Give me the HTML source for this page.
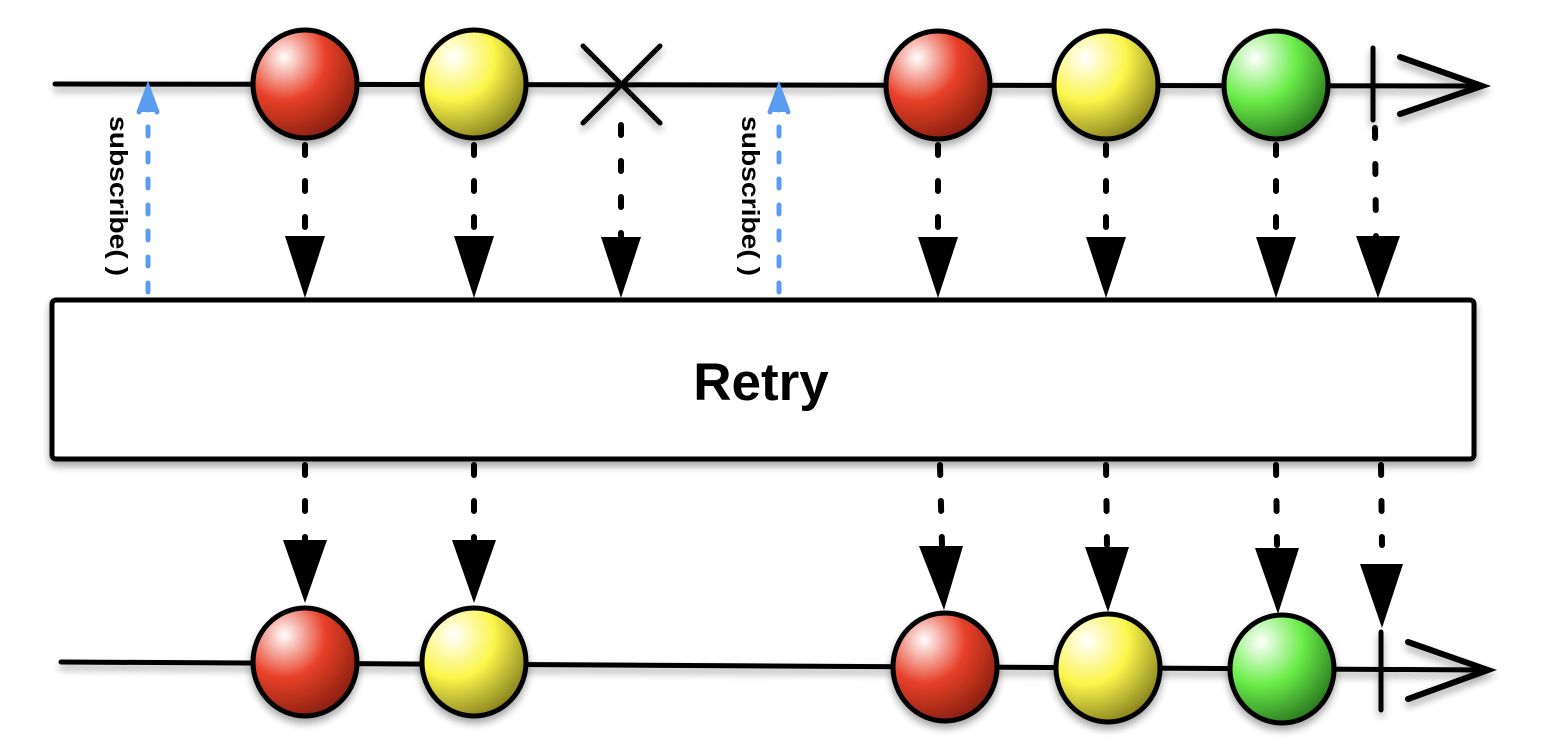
<!DOCTYPE html>
<html><head><style>html,body{margin:0;padding:0;background:#fff;}svg{display:block}</style></head><body>
<svg width="1550" height="756" viewBox="0 0 1550 756" xmlns="http://www.w3.org/2000/svg">
<defs>
<radialGradient id="r" cx="0.3" cy="0.25" r="0.8"><stop offset="0" stop-color="#fff"/><stop offset="0.5" stop-color="#e84028"/><stop offset="1" stop-color="#8a2010"/></radialGradient>
<radialGradient id="y" cx="0.3" cy="0.25" r="0.8"><stop offset="0" stop-color="#fff"/><stop offset="0.5" stop-color="#fbf54a"/><stop offset="1" stop-color="#8a8420"/></radialGradient>
<radialGradient id="g" cx="0.3" cy="0.25" r="0.8"><stop offset="0" stop-color="#fff"/><stop offset="0.5" stop-color="#6aed48"/><stop offset="1" stop-color="#2a7a20"/></radialGradient>
<filter id="s" x="-20%" y="-20%" width="140%" height="160%"><feDropShadow dx="0" dy="5" stdDeviation="4" flood-color="#000" flood-opacity="0.35"/></filter>
</defs>
<g stroke="#000" stroke-linecap="round" fill="none">
<g filter="url(#s)">
<line x1="55" y1="84" x2="1480" y2="86" stroke-width="5"/>
<polyline points="1400,57 1482,86 1400,114" stroke-width="6"/>
<line x1="1373" y1="48" x2="1373" y2="120" stroke-width="5"/>
<line x1="583" y1="46" x2="660" y2="123" stroke-width="5"/>
<line x1="660" y1="46" x2="583" y2="123" stroke-width="5"/>
</g>
<g filter="url(#s)">
<line x1="61" y1="662" x2="1488" y2="670" stroke-width="5"/>
<polyline points="1408,642 1488,670 1408,699" stroke-width="6"/>
<line x1="1381" y1="632" x2="1381" y2="710" stroke-width="5"/>
</g>
<g stroke-width="6" stroke-dasharray="10,26">
<line x1="305" y1="145" x2="305" y2="240"/>
<line x1="474" y1="145" x2="474" y2="240"/>
<line x1="621" y1="125" x2="621" y2="240"/>
<line x1="938" y1="145" x2="938" y2="240"/>
<line x1="1106" y1="145" x2="1106" y2="240"/>
<line x1="1276" y1="145" x2="1276" y2="240"/>
<line x1="1375" y1="128" x2="1376" y2="240"/>
<line x1="305" y1="465" x2="305" y2="545"/>
<line x1="474" y1="465" x2="474" y2="545"/>
<line x1="940" y1="465" x2="942" y2="545"/>
<line x1="1106" y1="465" x2="1107" y2="545"/>
<line x1="1276" y1="465" x2="1277" y2="545"/>
<line x1="1381" y1="465" x2="1382" y2="545"/>
</g>
<g stroke="#5a9cf0" stroke-width="5" stroke-dasharray="9,17">
<line x1="148" y1="292" x2="148" y2="98"/>
<line x1="779" y1="292" x2="779" y2="98"/>
</g>
<polyline points="139,112 148,88 157,112" stroke="#5a9cf0" stroke-width="5" fill="#5a9cf0"/>
<polyline points="770,112 779,88 788,112" stroke="#5a9cf0" stroke-width="5" fill="#5a9cf0"/>
</g>
<g fill="#000">
<polygon points="285,236 325,236 305,298"/>
<polygon points="454,236 494,236 474,298"/>
<polygon points="601,237 641,237 621,298"/>
<polygon points="918,237 958,237 938,298"/>
<polygon points="1086,237 1126,237 1106,298"/>
<polygon points="1256,237 1296,237 1276,298"/>
<polygon points="1356,236 1400,236 1378,298"/>
<polygon points="283,540 327,540 305,603"/>
<polygon points="452,540 496,540 474,603"/>
<polygon points="919,546 963,546 944,610"/>
<polygon points="1085,547 1129,547 1108,612"/>
<polygon points="1255,548 1299,548 1278,614"/>
<polygon points="1360,564 1403,564 1382,628"/>
</g>
<rect x="52" y="300" width="1422" height="159" rx="4" fill="#fff" stroke="#000" stroke-width="5" filter="url(#s)"/>
<text x="761" y="400" font-family="Liberation Sans, sans-serif" font-weight="bold" font-size="53" text-anchor="middle">Retry</text>
<text transform="translate(110,116) rotate(90)" font-family="Liberation Sans, sans-serif" font-weight="bold" font-size="25" textLength="160" lengthAdjust="spacingAndGlyphs">subscribe( )</text>
<text transform="translate(742,116) rotate(90)" font-family="Liberation Sans, sans-serif" font-weight="bold" font-size="25" textLength="160" lengthAdjust="spacingAndGlyphs">subscribe( )</text>
<g stroke="#000" stroke-width="5" filter="url(#s)">
<ellipse cx="305" cy="84" rx="52" ry="54" fill="url(#r)"/>
<ellipse cx="474" cy="84" rx="52" ry="54" fill="url(#y)"/>
<ellipse cx="938" cy="85" rx="52" ry="54" fill="url(#r)"/>
<ellipse cx="1106" cy="85" rx="52" ry="54" fill="url(#y)"/>
<ellipse cx="1276" cy="85" rx="52" ry="54" fill="url(#g)"/>
<ellipse cx="305" cy="662" rx="52" ry="54" fill="url(#r)"/>
<ellipse cx="474" cy="662" rx="52" ry="54" fill="url(#y)"/>
<ellipse cx="945" cy="667" rx="52" ry="54" fill="url(#r)"/>
<ellipse cx="1108" cy="668" rx="52" ry="54" fill="url(#y)"/>
<ellipse cx="1282" cy="669" rx="52" ry="54" fill="url(#g)"/>
</g>
</svg>
</body></html>
